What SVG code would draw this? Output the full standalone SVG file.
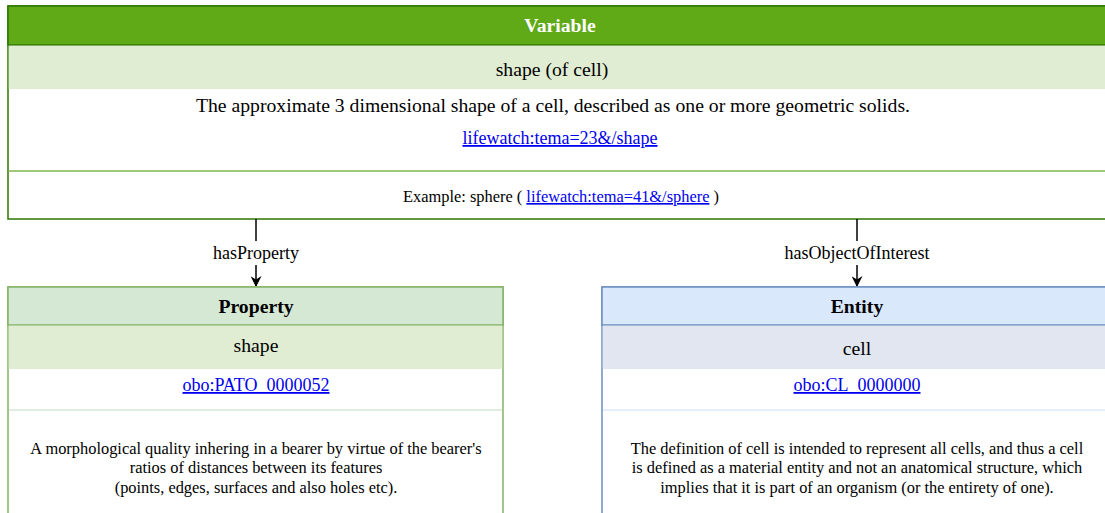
<svg xmlns="http://www.w3.org/2000/svg" width="1105" height="513" viewBox="0 0 1105 513">
<style>
text{font-family:"Liberation Serif","Times New Roman",serif;fill:#000;text-anchor:middle}
.b{font-weight:bold;font-size:19.7px}
.t20{font-size:19.7px}
.t18{font-size:18px}
.t16{font-size:16.4px}
.lnk{fill:#0000ee;text-decoration:underline}
.edge{stroke:#000;stroke-width:1.5;fill:none}
</style>
<defs>
<marker id="arr" viewBox="0 0 10 10" refX="9" refY="5" markerWidth="11" markerHeight="11" markerUnits="userSpaceOnUse" orient="auto">
<path d="M0,0 L10,5 L0,10 L3,5 Z" fill="#000"/>
</marker>
</defs>
<rect width="1105" height="513" fill="#fff"/>
<g id="variable">
<rect x="8" y="6" width="1104" height="213" fill="#fff" stroke="#2d7600" stroke-width="1.5"/>
<rect x="8" y="6" width="1104" height="39" fill="#60a917" stroke="#2d7600" stroke-width="1.5"/>
<rect x="8.75" y="45.75" width="1103" height="43.25" fill="#e0edd2"/>
<line x1="8" y1="171" x2="1112" y2="171" stroke="#7fb54c" stroke-width="1.5"/>
<text class="b" x="560" y="32" style="fill:#fff">Variable</text>
<text class="t20" x="552" y="76">shape (of cell)</text>
<text class="t20" x="553" y="112">The approximate 3 dimensional shape of a cell, described as one or more geometric solids.</text>
<text class="t18 lnk" x="560" y="144">lifewatch:tema=23&amp;/shape</text>
<text class="t16" x="561" y="202">Example: sphere ( <tspan class="lnk">lifewatch:tema=41&amp;/sphere</tspan> )</text>
</g>
<g id="connectors">
<path class="edge" d="M256,219 V241"/>
<path class="edge" d="M256,265 V286" marker-end="url(#arr)"/>
<text class="t18" x="256" y="259">hasProperty</text>
<path class="edge" d="M857,219 V241"/>
<path class="edge" d="M857,265 V286" marker-end="url(#arr)"/>
<text class="t18" x="857" y="259">hasObjectOfInterest</text>
</g>
<g id="property">
<rect x="8" y="287" width="495" height="240" fill="#fff" stroke="#82b366" stroke-width="1.5"/>
<rect x="8" y="287" width="495" height="38" fill="#d5e8d4" stroke="#82b366" stroke-width="1.5"/>
<rect x="8.75" y="325.75" width="493.5" height="43.25" fill="#e0edd2"/>
<line x1="9" y1="410" x2="502" y2="410" stroke="#d5e8d4" stroke-width="1.5"/>
<text class="b" x="256" y="313">Property</text>
<text class="t20" x="256" y="352">shape</text>
<text class="t18 lnk" x="256" y="391">obo:PATO_0000052</text>
<text class="t16" x="256" y="454">A morphological quality inhering in a bearer by virtue of the bearer's</text>
<text class="t16" x="256" y="473">ratios of distances between its features</text>
<text class="t16" x="256" y="493">(points, edges, surfaces and also holes etc).</text>
</g>
<g id="entity">
<rect x="602" y="287" width="510" height="240" fill="#fff" stroke="#6c8ebf" stroke-width="1.5"/>
<rect x="602" y="287" width="510" height="38" fill="#dae8fc" stroke="#6c8ebf" stroke-width="1.5"/>
<rect x="602.75" y="325.75" width="508.5" height="43.25" fill="#e1e6f0"/>
<line x1="603" y1="410" x2="1111" y2="410" stroke="#dae8fc" stroke-width="1.5"/>
<text class="b" x="857" y="313">Entity</text>
<text class="t20" x="857" y="355">cell</text>
<text class="t18 lnk" x="857" y="391">obo:CL_0000000</text>
<text class="t16" x="857" y="454">The definition of cell is intended to represent all cells, and thus a cell</text>
<text class="t16" x="857" y="473">is defined as a material entity and not an anatomical structure, which</text>
<text class="t16" x="857" y="493">implies that it is part of an organism (or the entirety of one).</text>
</g>
</svg>
